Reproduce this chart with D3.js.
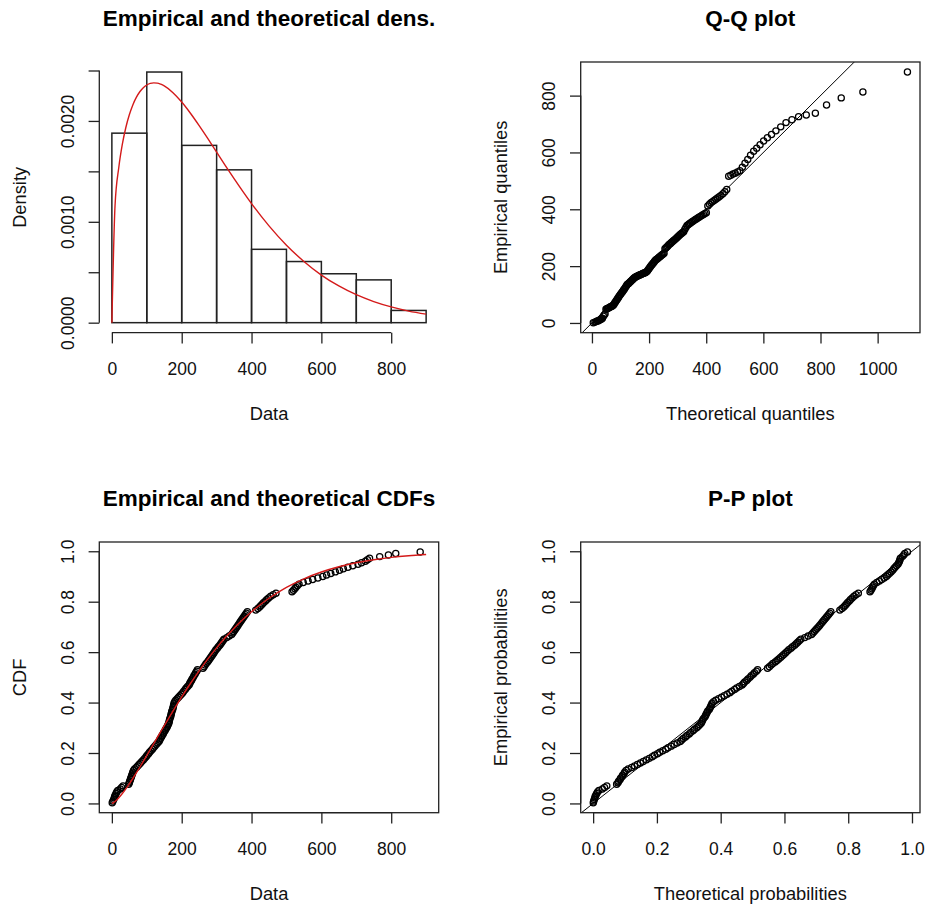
<!DOCTYPE html>
<html>
<head>
<meta charset="utf-8">
<script src="https://cdn.jsdelivr.net/npm/d3@7"></script>
<style>
  body { margin: 0; background: #fff; }
  svg text { font-family: "Liberation Sans", Arial, sans-serif; fill: #111; }
</style>
</head>
<body>
<svg id="chart" width="928" height="907"></svg>
<script>
let sampleData = [
  1, 3, 5, 7, 8, 10, 12, 14, 17, 24,
  28, 32, 48, 50, 51, 53, 54, 56, 57, 59,
  60, 62, 65, 70, 74, 78, 82, 86, 90, 94,
  98, 101, 105, 108, 112, 116, 119, 123, 127, 131,
  135, 137, 139, 142, 144, 147, 149, 152, 154, 157,
  159, 161, 163, 164, 165, 166, 168, 169, 170, 171,
  172, 174, 175, 176, 177, 178, 180, 183, 187, 191,
  195, 199, 203, 206, 210, 213, 217, 221, 223, 225,
  228, 230, 233, 235, 238, 240, 243, 245, 261, 264,
  267, 270, 274, 277, 280, 283, 286, 289, 292, 295,
  298, 302, 305, 309, 312, 315, 318, 321, 329, 336,
  343, 346, 349, 352, 355, 358, 361, 364, 367, 370,
  373, 376, 379, 382, 385, 388, 412, 418, 423, 427,
  431, 435, 440, 444, 449, 455, 462, 470, 516, 520,
  524, 527, 531, 536, 548, 562, 575, 590, 604, 615,
  627, 640, 652, 663, 676, 690, 705, 715, 726, 732,
  738, 767, 792, 813, 883
];

// x positions of the Q-Q points (theoretical quantiles)
let theoQuantiles = [
  4.6, 10.4, 14.9, 19.1, 22.9, 26.6, 30.1, 33.5, 36.7, 39.9,
  43.0, 46.0, 49.0, 51.9, 54.8, 57.7, 60.5, 63.2, 66.0, 68.8,
  71.5, 74.2, 76.8, 79.5, 82.2, 84.8, 87.4, 90.0, 92.6, 95.2,
  97.8, 100.4, 102.9, 105.5, 108.1, 110.6, 113.1, 115.7, 118.2, 120.8,
  123.3, 125.9, 128.4, 131.0, 133.6, 136.1, 138.7, 141.2, 143.8, 146.4,
  149.0, 151.6, 154.1, 156.7, 159.3, 161.9, 164.6, 167.2, 169.8, 172.5,
  175.1, 177.8, 180.5, 183.2, 185.9, 188.5, 191.2, 194.0, 196.8, 199.5,
  202.3, 205.1, 208.0, 210.9, 213.7, 216.5, 219.3, 222.2, 225.2, 228.2,
  231.1, 234.0, 237.0, 240.0, 243.0, 246.1, 249.3, 252.4, 255.5, 258.7,
  261.7, 265.0, 268.2, 271.5, 274.9, 278.1, 281.4, 284.9, 288.5, 291.9,
  295.4, 298.9, 302.5, 306.2, 309.9, 313.6, 317.3, 321.1, 324.9, 328.9,
  332.9, 336.9, 340.8, 345.0, 349.3, 353.6, 357.8, 362.1, 366.9, 371.5,
  376.1, 380.8, 385.5, 390.4, 395.5, 400.4, 405.6, 411.2, 416.6, 422.0,
  427.6, 433.5, 439.5, 445.6, 451.6, 458.4, 465.1, 471.8, 478.6, 486.1,
  493.7, 501.2, 509.5, 518.0, 526.4, 535.7, 545.3, 555.1, 566.0, 576.7,
  588.6, 600.9, 614.1, 628.5, 643.9, 660.8, 679.3, 700.0, 723.3, 750.2,
  782.0, 821.2, 872.6, 948.4, 1104.3
];

// x positions of the P-P points (theoretical probabilities)
let theoProbs = [
  .0004, .0017, .0034, .0054, .0064, .0088, .0112, .0139, .0181, .0290,
  .0357, .0428, .0737, .0778, .0799, .0840, .0861, .0904, .0925, .0968,
  .0989, .1032, .1100, .1208, .1299, .1390, .1482, .1573, .1666, .1760,
  .1855, .1923, .2018, .2090, .2185, .2279, .2351, .2447, .2542, .2635,
  .2731, .2778, .2826, .2897, .2944, .3013, .3061, .3132, .3179, .3249,
  .3296, .3343, .3387, .3410, .3433, .3457, .3503, .3526, .3549, .3573,
  .3596, .3641, .3664, .3687, .3708, .3731, .3777, .3845, .3935, .4025,
  .4112, .4200, .4288, .4352, .4436, .4500, .4586, .4672, .4714, .4753,
  .4815, .4856, .4918, .4959, .5021, .5060, .5120, .5159, .5470, .5527,
  .5582, .5636, .5710, .5766, .5821, .5876, .5927, .5979, .6031, .6084,
  .6136, .6204, .6253, .6319, .6368, .6417, .6465, .6514, .6638, .6743,
  .6849, .6892, .6933, .6976, .7019, .7062, .7104, .7144, .7184, .7223,
  .7263, .7303, .7340, .7380, .7418, .7455, .7737, .7804, .7860, .7904,
  .7944, .7985, .8034, .8074, .8125, .8182, .8245, .8317, .8683, .8712,
  .8740, .8762, .8788, .8820, .8896, .8978, .9051, .9128, .9196, .9241,
  .9290, .9342, .9393, .9429, .9469, .9513, .9559, .9583, .9608, .9622,
  .9636, .9697, .9742, .9775, .9857
];

let histBreaks = [0, 100, 200, 300, 400, 500, 600, 700, 800, 900];

// red fitted density
let densCurveX = [0, 9, 20, 30, 40, 50, 60, 70, 80, 90,
  100, 110, 120, 130, 140, 150,
  175, 200, 225, 250, 275, 300, 325, 350, 375, 400,
  450, 500, 550, 600, 650, 700, 750, 800, 850, 900];
let densCurveY = [0, 0.001156, 0.001543, 0.001769, 0.001935, 0.002061, 0.002159, 0.002233, 0.002289, 0.002329,
  0.002356, 0.002372, 0.002377, 0.002375, 0.002364, 0.002347,
  0.002280, 0.002187, 0.002076, 0.001953, 0.001824, 0.001691, 0.001558, 0.001428, 0.001302, 0.001181,
  0.000960, 0.000768, 0.000607, 0.000472, 0.000364, 0.000277, 0.000209, 0.000156, 0.000115, 0.0000846];

// red fitted CDF
let cdfCurveX = [0, 5, 10, 20, 30, 40, 50, 60, 70, 80,
  90, 100, 120, 140, 175, 200, 225, 250, 275, 300,
  325, 350, 375, 400, 450, 500, 550, 600, 650, 700,
  750, 800, 850, 900];
let cdfCurveY = [0, .0034, .0088, .0226, .0392, .0578, .0778, .0989, .1209, .1435,
  .1666, .1901, .2375, .2849, .3664, .4223, .4756, .5260, .5732, .6171,
  .6577, .6951, .7291, .7602, .8136, .8567, .8909, .9178, .9386, .9545,
  .9666, .9757, .9824, .9874];

let dataTicks = [0, 200, 400, 600, 800];
let densTicks = [0, 0.0005, 0.001, 0.0015, 0.002, 0.0025];
let densTickLabels = ["0.0000", "", "0.0010", "", "0.0020", ""];
let qqTicksX = [0, 200, 400, 600, 800, 1000];
let qqTicksY = [0, 200, 400, 600, 800];
let probTicks = [0, 0.2, 0.4, 0.6, 0.8, 1.0];

// plot regions (px)
const boxes = {
    dens: { x0: 99.3, x1: 438.7, y0: 62, y1: 332.7 },
    qq:   { x0: 580.7, x1: 920, y0: 62, y1: 332.7 },
    cdf:  { x0: 99.3, x1: 438.7, y0: 542, y1: 812.7 },
    pp:   { x0: 580.7, x1: 920, y0: 542, y1: 812.7 }
};
const tickFont = 17.5, labFont = 18.3, titleFont = 22.5, tickLen = 10.7;
const ink = "#222";

const svg = d3.select("#chart");
const n = sampleData.length;
const ppoints = sampleData.map((d, i) => (i + 0.5) / n);

// R's default 4% axis padding
let rExtent = (lo, hi) => [lo - 0.04 * (hi - lo), hi + 0.04 * (hi - lo)];

function labels(g, box, title, xLab, yLab) {
    let cx = (box.x0 + box.x1) / 2, cy = (box.y0 + box.y1) / 2;
    g.append("text").attr("x", cx).attr("y", box.y0 - 36.5)
        .attr("text-anchor", "middle").attr("font-size", titleFont)
        .attr("font-weight", "bold").style("fill", "#000").text(title);
    g.append("text").attr("x", cx).attr("y", box.y1 + 87.5)
        .attr("text-anchor", "middle").attr("font-size", labFont).text(xLab);
    g.append("text").attr("transform", `translate(${box.x0 - 73.5},${cy}) rotate(-90)`)
        .attr("text-anchor", "middle").attr("font-size", labFont).text(yLab);
}

function xAxis(g, scale, box, ticks, fmt) {
    let ax = g.append("g").attr("transform", `translate(0,${box.y1})`)
        .attr("color", ink)
        .call(d3.axisBottom(scale).tickValues(ticks).tickFormat(fmt).tickSize(tickLen).tickSizeOuter(0));
    ax.attr("font-size", null).attr("font-family", null);
    ax.select(".domain").remove();
    ax.selectAll(".tick line").attr("stroke-width", 1.3);
    ax.selectAll(".tick text").attr("y", 42.5).attr("dy", null).attr("font-size", tickFont);
    ax.append("line")
        .attr("x1", scale(ticks[0])).attr("x2", scale(ticks[ticks.length - 1]))
        .attr("stroke", ink).attr("stroke-width", 1.3);
}

function yAxis(g, scale, box, ticks, fmt) {
    let ax = g.append("g").attr("transform", `translate(${box.x0},0)`)
        .attr("color", ink)
        .call(d3.axisLeft(scale).tickValues(ticks).tickFormat(fmt).tickSize(tickLen).tickSizeOuter(0));
    ax.attr("font-size", null).attr("font-family", null);
    ax.select(".domain").remove();
    ax.selectAll(".tick line").attr("stroke-width", 1.3);
    ax.selectAll(".tick text")
        .attr("x", null).attr("dy", null)
        .attr("text-anchor", "middle").attr("font-size", tickFont)
        .attr("transform", "translate(-25.5,0) rotate(-90)");
    ax.append("line")
        .attr("y1", scale(ticks[0])).attr("y2", scale(ticks[ticks.length - 1]))
        .attr("stroke", ink).attr("stroke-width", 1.3);
}

function frame(g, box) {
    g.append("rect").attr("x", box.x0).attr("y", box.y0)
        .attr("width", box.x1 - box.x0).attr("height", box.y1 - box.y0)
        .attr("fill", "none").attr("stroke", ink).attr("stroke-width", 1.3);
}

function clipFor(id, box) {
    svg.append("clipPath").attr("id", id).append("rect")
        .attr("x", box.x0).attr("y", box.y0)
        .attr("width", box.x1 - box.x0).attr("height", box.y1 - box.y0);
    return `url(#${id})`;
}

function drawPoints(g, xs, ys, xv, yv) {
    g.append("g").selectAll("circle")
        .data(xv.map((x, i) => [x, yv[i]]))
        .join("circle")
        .attr("cx", d => xs(d[0])).attr("cy", d => ys(d[1]))
        .attr("r", 3.1).attr("fill", "none")
        .attr("stroke", "#000").attr("stroke-width", 1.25);
}

function drawIdentity(g, xs, ys, clip) {
    let lo = Math.min(xs.domain()[0], ys.domain()[0]);
    let hi = Math.max(xs.domain()[1], ys.domain()[1]);
    g.append("line").attr("clip-path", clip)
        .attr("x1", xs(lo)).attr("y1", ys(lo)).attr("x2", xs(hi)).attr("y2", ys(hi))
        .attr("stroke", "#000").attr("stroke-width", 1);
}

function redLine(g, xs, ys, xv, yv) {
    let line = d3.line().x(d => xs(d[0])).y(d => ys(d[1])).curve(d3.curveMonotoneX);
    g.append("path").datum(xv.map((x, i) => [x, yv[i]]))
        .attr("d", line).attr("fill", "none")
        .attr("stroke", "#d41a1a").attr("stroke-width", 1.4);
}

function buildDensity() {
    let box = boxes.dens;
    let g = svg.append("g");
    let bins = d3.bin().domain([histBreaks[0], histBreaks[histBreaks.length - 1]])
        .thresholds(histBreaks.slice(1, -1))(sampleData);
    let dens = bins.map(b => b.length / (n * (b.x1 - b.x0)));
    let ymax = Math.max(d3.max(dens), d3.max(densCurveY));

    let xs = d3.scaleLinear().domain(rExtent(histBreaks[0], histBreaks[histBreaks.length - 1])).range([box.x0, box.x1]);
    let ys = d3.scaleLinear().domain(rExtent(0, ymax)).range([box.y1, box.y0]);

    g.append("g").selectAll("rect")
        .data(bins)
        .join("rect")
        .attr("x", b => xs(b.x0)).attr("width", b => xs(b.x1) - xs(b.x0))
        .attr("y", (b, i) => ys(dens[i])).attr("height", (b, i) => ys(0) - ys(dens[i]))
        .attr("fill", "none").attr("stroke", ink).attr("stroke-width", 1.5);

    redLine(g, xs, ys, densCurveX, densCurveY);
    xAxis(g, xs, box, dataTicks, d => d);
    yAxis(g, ys, box, densTicks, (d, i) => densTickLabels[i]);
    labels(g, box, "Empirical and theoretical dens.", "Data", "Density");
}

function buildQQ() {
    let box = boxes.qq;
    let g = svg.append("g");
    let xs = d3.scaleLinear().domain(rExtent(d3.min(theoQuantiles), d3.max(theoQuantiles))).range([box.x0, box.x1]);
    let ys = d3.scaleLinear().domain(rExtent(d3.min(sampleData), d3.max(sampleData))).range([box.y1, box.y0]);
    drawPoints(g, xs, ys, theoQuantiles, sampleData);
    drawIdentity(g, xs, ys, clipFor("clipQQ", box));
    frame(g, box);
    xAxis(g, xs, box, qqTicksX, d => d);
    yAxis(g, ys, box, qqTicksY, d => d);
    labels(g, box, "Q-Q plot", "Theoretical quantiles", "Empirical quantiles");
}

function buildCDF() {
    let box = boxes.cdf;
    let g = svg.append("g");
    let xs = d3.scaleLinear().domain(rExtent(histBreaks[0], histBreaks[histBreaks.length - 1])).range([box.x0, box.x1]);
    let ys = d3.scaleLinear().domain(rExtent(d3.min(ppoints), d3.max(ppoints))).range([box.y1, box.y0]);
    drawPoints(g, xs, ys, sampleData, ppoints);
    redLine(g, xs, ys, cdfCurveX, cdfCurveY);
    frame(g, box);
    xAxis(g, xs, box, dataTicks, d => d);
    yAxis(g, ys, box, probTicks, d3.format(".1f"));
    labels(g, box, "Empirical and theoretical CDFs", "Data", "CDF");
}

function buildPP() {
    let box = boxes.pp;
    let g = svg.append("g");
    let xs = d3.scaleLinear().domain(rExtent(d3.min(theoProbs), d3.max(theoProbs))).range([box.x0, box.x1]);
    let ys = d3.scaleLinear().domain(rExtent(d3.min(ppoints), d3.max(ppoints))).range([box.y1, box.y0]);
    drawPoints(g, xs, ys, theoProbs, ppoints);
    drawIdentity(g, xs, ys, clipFor("clipPP", box));
    frame(g, box);
    xAxis(g, xs, box, probTicks, d3.format(".1f"));
    yAxis(g, ys, box, probTicks, d3.format(".1f"));
    labels(g, box, "P-P plot", "Theoretical probabilities", "Empirical probabilities");
}

buildDensity();
buildQQ();
buildCDF();
buildPP();
</script>
</body>
</html>
